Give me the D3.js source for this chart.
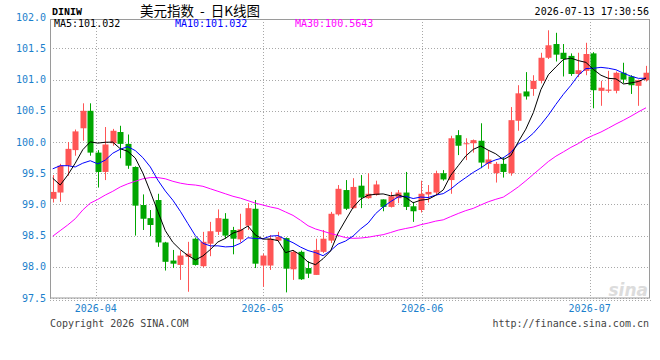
<!DOCTYPE html>
<html><head><meta charset="utf-8">
<script src="https://cdn.jsdelivr.net/npm/d3@7"></script>
<style>html,body{margin:0;padding:0;background:#fff;}svg{display:block;}</style>
</head><body>
<div id="chart"></div>
<script>
// ---- data ----
const opens = [99.09,99.19,99.62,99.87,100.22,100.50,99.83,99.52,99.98,100.16,
 99.97,99.60,98.99,98.78,99.07,98.39,98.10,98.03,98.16,98.45,
 98.01,98.37,98.56,98.77,98.59,98.44,98.66,98.93,98.02,98.02,
 98.42,98.46,97.96,98.24,97.98,97.87,98.24,98.42,98.84,99.23,
 98.94,99.30,99.10,99.15,99.08,98.96,99.10,99.19,98.97,98.91,
 99.16,99.19,99.50,99.39,100.11,99.97,99.98,100.02,99.65,99.50,
 99.65,99.50,100.34,100.81,100.85,100.98,101.35,101.57,101.43,101.38,
 101.09,101.14,101.42,100.82,100.82,100.82,101.11,101.05,100.90,100.99];
const closes = [99.20,99.62,99.89,100.17,100.50,99.83,99.52,99.96,100.18,99.97,
 99.62,98.98,98.77,98.67,98.39,98.08,98.05,98.18,98.21,98.03,
 98.40,98.57,98.78,98.50,98.45,98.60,98.94,98.05,98.18,98.45,
 98.48,97.97,98.24,97.80,97.89,98.27,98.45,98.85,99.25,98.93,
 99.28,99.11,99.17,99.32,98.96,99.13,99.19,98.96,98.89,99.17,
 99.20,99.50,99.40,100.06,99.94,99.98,100.03,99.67,99.72,99.65,
 99.52,100.35,100.78,100.73,100.98,101.35,101.55,101.40,101.33,101.09,
 101.15,101.41,100.83,100.87,100.84,101.11,101.00,100.91,100.99,101.11];
const highs = [99.47,99.65,100.00,100.20,100.62,100.62,99.87,100.24,100.21,100.26,
 100.12,99.61,99.16,98.91,99.17,98.40,98.27,98.26,98.40,98.47,
 98.56,98.72,98.92,98.86,98.64,98.85,99.02,99.07,98.21,98.51,
 98.56,98.47,98.26,98.26,98.09,98.45,98.59,98.88,99.31,99.39,
 99.42,99.47,99.50,99.38,99.08,99.20,99.23,99.52,99.04,99.38,
 99.31,99.54,99.55,100.10,100.19,100.06,100.04,100.30,99.87,99.68,
 99.76,100.56,100.91,101.12,101.07,101.43,101.79,101.75,101.57,101.42,
 101.43,101.59,101.44,100.98,101.14,101.13,101.27,101.07,101.00,101.22];
const lows = [99.03,99.04,99.46,99.78,100.02,99.78,99.27,99.39,99.94,99.74,
 99.57,98.50,98.59,98.49,98.32,97.94,97.98,97.79,97.60,98.02,
 97.99,98.17,98.51,98.45,98.20,98.39,98.59,97.98,97.68,97.95,
 98.40,97.59,97.79,97.79,97.82,97.87,98.22,98.38,98.82,98.91,
 98.93,98.94,99.09,99.14,98.89,98.95,99.02,98.91,98.72,98.87,
 99.03,99.15,99.38,99.17,99.79,99.71,99.83,99.58,99.57,99.35,
 99.43,99.46,100.18,100.68,100.74,100.94,101.33,101.29,101.05,101.06,
 101.04,101.07,100.54,100.58,100.79,100.78,100.94,100.77,100.58,100.97];
// moving-average values at the left edge (their history lies before the window)
const ma5Head = [99.42,99.31,99.47,99.66];
const ma10Head = [99.57,99.62,99.62,99.60,99.66,99.70,99.65,99.71,99.82];
const ma30Head = [98.49,98.58,98.67,98.77,98.91,99.02,99.08,99.15,99.21,99.28,
 99.33,99.37,99.41,99.43,99.43,99.41,99.37,99.34,99.32,99.31,
 99.29,99.25,99.21,99.17,99.13,99.10,99.06,99.02,98.99];
const yTicks = [97.5,98.0,98.5,99.0,99.5,100.0,100.5,101.0,101.5,102.0];
const monthLabels = ["2026-04","2026-05","2026-06","2026-07"];
const monthPos = [5.73,27.94,49.2,71.5]; // position on the candle index axis
const legendNames = ["MA5","MA10","MA30"];
const legendValues = ["101.032","101.032","100.5643"];

// ---- helpers ----
function movingAvg(n, head){
  return closes.map((c,i)=>{
    if(i < n-1) return head[i];
    return d3.mean(closes.slice(i-n+1,i+1));
  });
}
const ma5 = movingAvg(5, ma5Head), ma10 = movingAvg(10, ma10Head), ma30 = movingAvg(30, ma30Head);

const W=660,H=360;
const L=50,R=649.5,T=19,B=298;
const svg = d3.select("#chart").append("svg").attr("width",W).attr("height",H);
const x = d3.scaleLinear().domain([0,closes.length-1]).range([52.7,646]);
const y = d3.scaleLinear().domain([97.5,102]).range([298,17.2]);
const mono = "'DejaVu Sans Mono', monospace";
const blueTxt = "#1b7fcc";
const RED="#ff5555", GREEN="#00a600";

// gridlines
const grid = svg.append("g");
grid.selectAll("line.h").data(yTicks.filter(t=>t<102)).join("line")
  .attr("x1",L).attr("x2",R).attr("y1",d=>Math.round(y(d))+0.5).attr("y2",d=>Math.round(y(d))+0.5)
  .attr("stroke","#a8a8a8").attr("stroke-dasharray","1,2");
grid.selectAll("line.v").data(monthPos).join("line")
  .attr("x1",d=>Math.round(x(d))+0.5).attr("x2",d=>Math.round(x(d))+0.5).attr("y1",T).attr("y2",B)
  .attr("stroke","#a8a8a8").attr("stroke-dasharray","1,2");
svg.append("line").attr("x1",L).attr("x2",652).attr("y1",300.5).attr("y2",300.5)
  .attr("stroke","#a8a8a8").attr("stroke-dasharray","1,2");

// watermark
svg.append("text").attr("x",648).attr("y",296).attr("text-anchor","end")
  .attr("font-family","'DejaVu Sans', sans-serif").attr("font-style","italic").attr("font-weight","bold")
  .attr("font-size",17).attr("fill","#dcdcdc").text("sina");

// candles
const idx = d3.range(closes.length);
const cg = svg.append("g");
cg.selectAll("line.wick").data(idx).join("line")
  .attr("x1",i=>Math.round(x(i))+0.5).attr("x2",i=>Math.round(x(i))+0.5)
  .attr("y1",i=>y(highs[i])).attr("y2",i=>y(lows[i]))
  .attr("stroke",i=>closes[i]>=opens[i]?RED:GREEN).attr("stroke-width",1);
cg.selectAll("rect").data(idx).join("rect")
  .attr("x",i=>Math.round(x(i))-2.5).attr("width",6)
  .attr("y",i=>y(Math.max(opens[i],closes[i])))
  .attr("height",i=>Math.max(1,Math.abs(y(opens[i])-y(closes[i]))))
  .attr("fill",i=>closes[i]>=opens[i]?RED:GREEN);

// moving averages
const lineGen = arr => d3.line().x((d,i)=>x(i)).y(d=>y(d))(arr);
[[ma30,"#ff00ff"],[ma10,"#0000ff"],[ma5,"#000000"]].forEach(([a,c])=>{
  svg.append("path").attr("d",lineGen(a)).attr("fill","none").attr("stroke",c).attr("stroke-width",1);
});

// frame
svg.append("rect").attr("x",L+0.5).attr("y",T+0.5).attr("width",R-L-0.5).attr("height",B-T-0.5)
  .attr("fill","none").attr("stroke","#9a9a9a").attr("stroke-width",1);

// y labels
svg.selectAll("text.yl").data(yTicks).join("text")
  .attr("x",46).attr("y",d=>y(d)).attr("dy","0.35em").attr("text-anchor","end")
  .attr("font-family",mono).attr("font-size",10).attr("fill",blueTxt)
  .text(d=>d.toFixed(1));

// month labels
svg.selectAll("text.ml").data(monthPos).join("text")
  .attr("x",d=>x(d)).attr("y",311.5).attr("text-anchor","middle")
  .attr("font-family",mono).attr("font-size",10).attr("fill",blueTxt)
  .text((d,i)=>monthLabels[i]);

// header
svg.append("text").attr("x",52).attr("y",15).attr("font-family","'Liberation Mono', monospace")
  .attr("font-weight","bold").attr("font-size",10).attr("fill","#000").text("DINIW");
svg.append("text").attr("x",200).attr("y",15.5).attr("text-anchor","middle")
  .attr("font-family","'Noto Sans CJK SC', sans-serif").attr("font-size",13.5).attr("fill","#000")
  .style("white-space","pre").text("美元指数  -  日K线图");
svg.append("text").attr("x",649).attr("y",15).attr("text-anchor","end")
  .attr("font-family",mono).attr("font-size",10).attr("fill","#000").text("2026-07-13 17:30:56");

// legend
const legX=[54,175,295], legC=["#000000","#0000ff","#ff00ff"];
legendNames.forEach((n,i)=>{
  svg.append("text").attr("x",legX[i]).attr("y",27).attr("font-family",mono).attr("font-size",10)
    .attr("fill",legC[i]).text(n+":"+legendValues[i]);
});

// footer
svg.append("text").attr("x",50).attr("y",327).attr("font-family",mono).attr("font-size",10)
  .attr("fill","#444").text("Copyright 2026 SINA.COM");
svg.append("text").attr("x",649).attr("y",327).attr("text-anchor","end").attr("font-family",mono)
  .attr("font-size",10).attr("fill","#444").text("http://finance.sina.com.cn");
</script>
</body></html>
